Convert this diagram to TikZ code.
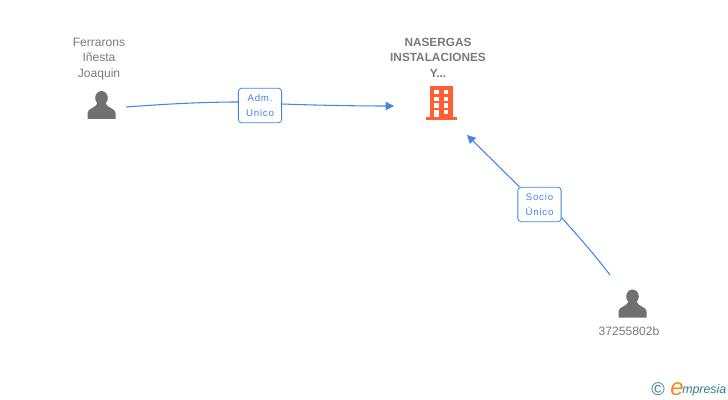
\documentclass[tikz,border=0pt]{standalone}
\usepackage{fontspec}
\setmainfont{Liberation Sans}
\usetikzlibrary{calc,arrows.meta}
\definecolor{linkblue}{HTML}{3F86E6}
\definecolor{iconcol}{HTML}{707070}
\definecolor{textcol}{HTML}{7A7A7A}
\definecolor{housecol}{HTML}{FF5F33}
\definecolor{logoteal}{HTML}{2F7F8F}
\definecolor{logoorange}{HTML}{F28A1E}
\tikzset{
	namelabel/.style={text=textcol, align=center, font=\fontsize{8.6}{11}\selectfont, inner sep=0pt},
	rolebox/.style={draw=linkblue, fill=white, rounded corners=2.2pt, line width=0.6pt, text=linkblue, align=center,
		minimum width=1.08cm, minimum height=0.86cm, inner sep=0pt, font=\fontsize{6.9}{10.7}\selectfont\addfontfeature{LetterSpace=8}},
	linkline/.style={linkblue, line width=0.75pt},
}
\def\personicon(#1,#2){
	\fill[iconcol] (#1, #2-7) ellipse (6.3 and 7);
	\fill[iconcol] (#1-14, #2+14) -- (#1-14, #2+8) .. controls (#1-14, #2+3) and (#1-5, #2+3) .. (#1-4, #2-2) -- (#1+4, #2-2) .. controls (#1+5, #2+3) and (#1+14, #2+3) .. (#1+14, #2+8) -- (#1+14, #2+14) -- cycle;
}
\begin{document}
\begin{tikzpicture}[x=0.025cm, y=-0.025cm]
	\useasboundingbox (0, 0) rectangle (728, 400);
	%%%%% people %%%%%
	\node[namelabel] (ferrarons) at (99, 59) {Ferrarons\\Iñesta\\Joaquin};
	\personicon(101.5,105)
	\node[namelabel] (socio) at (629, 331.5) {37255802b};
	\personicon(632.5,303.5)
	%%%%% company %%%%%
	\node[namelabel, font=\fontsize{8.4}{11}\selectfont\bfseries] (nasergas) at (438, 57.5) {NASERGAS\\INSTALACIONES\\Y...};
	\fill[housecol] (430, 86) rectangle (452.5, 117);
	\fill[housecol] (425.5, 117) rectangle (457, 120);
	\foreach \r in {0,1,2} {
		\fill[white] (434, 90+\r*6.67) rectangle (438.7, 94.4+\r*6.67);
		\fill[white] (443.7, 90+\r*6.67) rectangle (448.3, 94.4+\r*6.67);
	}
	\fill[white] (434, 110) rectangle (438.7, 117);
	\fill[white] (443.7, 110) rectangle (448.3, 114.4);
	%%%%% links %%%%%
	\node[rolebox] (adm) at (260, 105.5) {Adm.\\Unico};
	\node[rolebox] (soc) at (539.5, 204.5) {Socio\\Único};
	\coordinate (admstart) at (126, 107);
	\coordinate (admend) at (394, 106);
	\coordinate (socstart) at (610, 275);
	\coordinate (socend) at (467, 135);
	\draw[linkline] (admstart) .. controls (165, 104) and (205, 102) .. ($(adm.west)+(0, -3.5)$);
	\draw[linkline, -{Triangle[length=6pt, width=6pt]}] ($(adm.east)+(0, -1.5)$) .. controls (310, 105) and (350, 106) .. (admend);
	\draw[linkline] (socstart) .. controls (595, 255) and (578, 236) .. ($(soc.east)+(0, 13)$);
	\draw[linkline, -{Triangle[length=6pt, width=6pt]}] ($(soc.north west)+(2, 0)$) -- (socend);
	%%%%% logo %%%%%
	\node[logoteal, font=\fontsize{13}{13}\selectfont, inner sep=0pt] (copy) at (658, 389) {©};
	\node[logoteal, font=\fontsize{8.8}{10}\selectfont\itshape, inner sep=0pt, anchor=base west] (brand) at (682, 393.5) {mpresia};
	\node[logoorange, font=\fontsize{17}{17}\selectfont\itshape, inner sep=0pt, anchor=base west] (brandinit) at (670, 395) {e};
\end{tikzpicture}
\end{document}
